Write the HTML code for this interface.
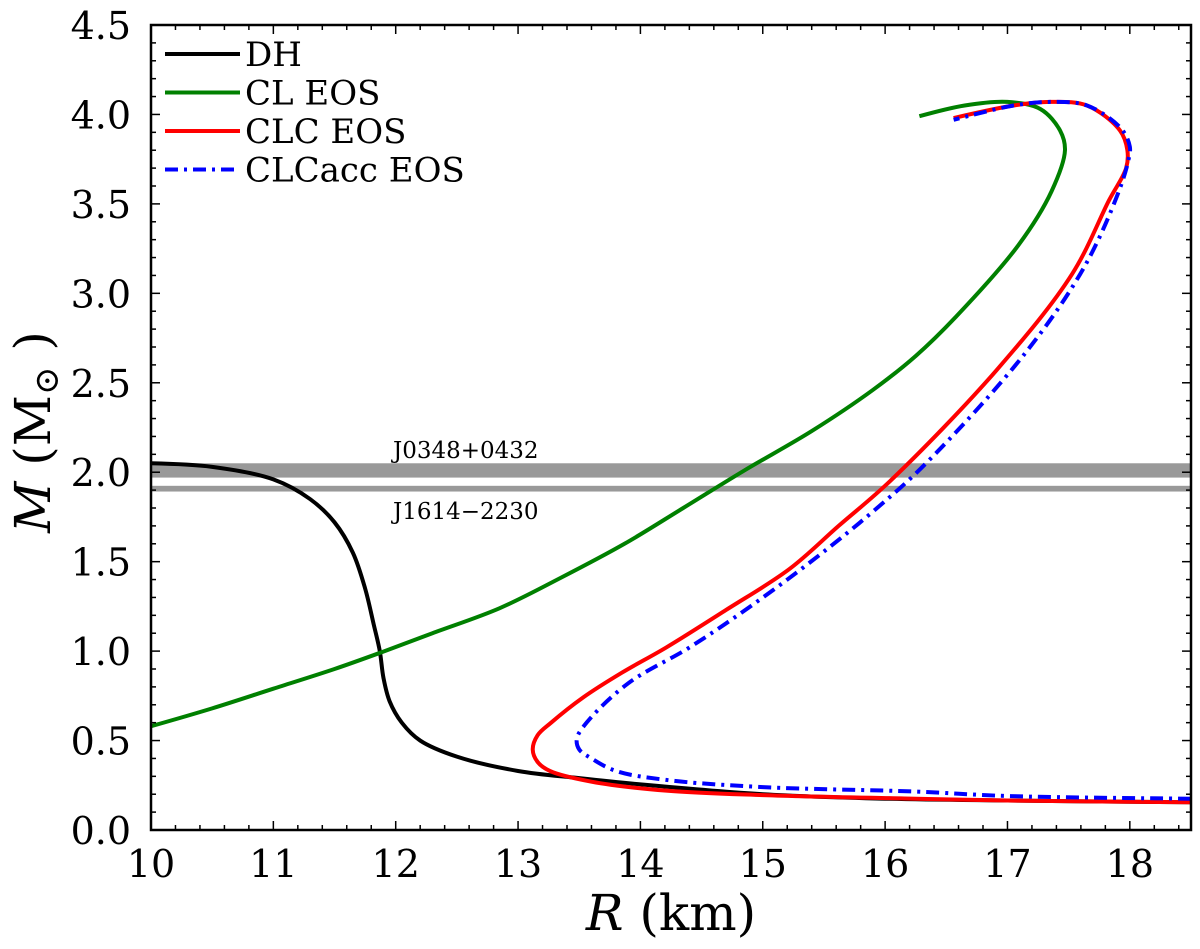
<!DOCTYPE html>
<html><head><meta charset="utf-8"><style>
body{margin:0;background:#fff}
svg text{font-family:"DejaVu Serif","Liberation Serif",serif}
</style></head><body>
<svg id="c" width="1200" height="944" viewBox="0 0 1200 944" xmlns="http://www.w3.org/2000/svg"></svg>
<script>
const xTicks=[10,11,12,13,14,15,16,17,18];
const yTicks=[0.0,0.5,1.0,1.5,2.0,2.5,3.0,3.5,4.0,4.5];
const dhR=[10.0,10.5,11.0,11.3,11.5,11.65,11.75,11.82,11.87,11.9,11.95,12.05,12.2,12.5,13,13.5,14,15,16,17,18.5];
const dhM=[2.05,2.03,1.96,1.85,1.72,1.55,1.35,1.15,1.0,0.85,0.72,0.6,0.5,0.41,0.33,0.29,0.255,0.2,0.175,0.165,0.155];
const clR=[10,10.5,11,11.5,11.87,12.3,12.85,13.35,13.87,14.35,14.85,15.4,15.9,16.25,16.58,17.09,17.36,17.47,17.43,17.27,17.0,16.65,16.28];
const clM=[0.58,0.68,0.79,0.9,0.99,1.1,1.24,1.41,1.6,1.8,2.01,2.23,2.46,2.65,2.87,3.27,3.57,3.8,3.91,4.03,4.07,4.05,3.99];
const clcR=[18.5,17,16.25,15,14.21,13.6,13.26,13.16,13.12,13.16,13.27,13.53,13.85,14.21,14.7,15.22,15.62,16.04,16.91,17.53,17.83,17.97,17.98,17.92,17.65,17.35,17.05,16.56];
const clcM=[0.155,0.165,0.175,0.195,0.22,0.27,0.33,0.38,0.45,0.53,0.6,0.74,0.88,1.02,1.23,1.46,1.7,1.95,2.57,3.11,3.52,3.7,3.8,3.91,4.05,4.07,4.05,3.98];
const accR=[18.5,17,16.25,15,14.21,13.8,13.6,13.5,13.48,13.56,13.9,14.4,14.92,15.45,15.9,16.32,17.15,17.63,17.91,17.99,18.0,17.93,17.65,17.35,17.05,16.56];
const accM=[0.175,0.19,0.215,0.24,0.28,0.33,0.4,0.45,0.51,0.6,0.82,1.02,1.26,1.53,1.78,2.04,2.67,3.15,3.57,3.75,3.82,3.92,4.05,4.07,4.05,3.97];
const bandLo=[1.97,1.892];
const bandHi=[2.05,1.924];
const bandNames=["J0348+0432","J1614\u22122230"];

const L=151,R=1191,T=25,B=830,x0=10,x1=18.5,y0=0,y1=4.5;
const sx=v=>L+(v-x0)/(x1-x0)*(R-L);
const sy=v=>B-(v-y0)/(y1-y0)*(B-T);
const svg=document.getElementById('c');
const NS='http://www.w3.org/2000/svg';
function mk(tag,at,parent){const e=document.createElementNS(NS,tag);for(const k in at)e.setAttribute(k,at[k]);(parent||svg).appendChild(e);return e;}
const clip=mk('clipPath',{id:'pc'});mk('rect',{x:L,y:T,width:R-L,height:B-T},clip);

for(let i=0;i<bandLo.length;i++){
  const r=mk('rect',{x:L,y:sy(bandHi[i]),width:R-L,height:sy(bandLo[i])-sy(bandHi[i]),fill:'#999'});
  
  
}
const t1=mk('text',{x:393,y:458,'font-size':23,fill:'#000'});t1.textContent=bandNames[0];


const t2=mk('text',{x:393,y:519,'font-size':23,fill:'#000'});t2.textContent=bandNames[1];



function path(rs,ms){
  const p=rs.map((r,i)=>[sx(r),sy(ms[i])]);
  const n=p.length;
  const dd=(a,b)=>Math.max(1e-3,Math.hypot(b[0]-a[0],b[1]-a[1]));
  let d='M'+p[0][0].toFixed(2)+','+p[0][1].toFixed(2);
  for(let i=0;i<n-1;i++){
    const P0=i>0?p[i-1]:p[i],P1=p[i],P2=p[i+1],P3=i+2<n?p[i+2]:p[i+1];
    const l2=dd(P1,P2);
    let b1,b2;
    if(i===0)b1=P1;else{
      const l1=dd(P0,P1),d1=Math.sqrt(l1),d2=Math.sqrt(l2);
      b1=[0,1].map(k=>(l1*P2[k]-l2*P0[k]+(2*l1+3*d1*d2+l2)*P1[k])/(3*d1*(d1+d2)));
    }
    if(i+2>=n)b2=P2;else{
      const l3=dd(P2,P3),d3=Math.sqrt(l3),d2=Math.sqrt(l2);
      b2=[0,1].map(k=>(l3*P1[k]-l2*P3[k]+(2*l3+3*d3*d2+l2)*P2[k])/(3*d3*(d3+d2)));
    }
    d+=' C'+b1.map(v=>v.toFixed(2))+' '+b2.map(v=>v.toFixed(2))+' '+P2.map(v=>v.toFixed(2));
  }
  return d;
}
const series=[[dhR,dhM,'#000',null,'dh-curve'],[clR,clM,'#008000',null,'cl-eos-curve'],[clcR,clcM,'#f00',null,'clc-eos-curve'],[accR,accM,'#00f','13,6,3,6','clcacc-eos-curve']];
series.forEach(s=>{
  const at={d:path(s[0],s[1]),fill:'none',stroke:s[2],'stroke-width':4,'clip-path':'url(#pc)'};
  if(s[3])at['stroke-dasharray']=s[3];
  const e=mk('path',at);
  
  
});

const fr=mk('rect',{x:L,y:T,width:R-L,height:B-T,fill:'none',stroke:'#000','stroke-width':2.5});


for(let v=10;v<=18.5001;v+=0.2){
  const maj=Math.abs(v-Math.round(v))<1e-6,len=maj?9:5,X=sx(v);
  mk('line',{x1:X,y1:B,x2:X,y2:B-len,stroke:'#000','stroke-width':1.5});
  mk('line',{x1:X,y1:T,x2:X,y2:T+len,stroke:'#000','stroke-width':1.5});
}
for(let v=0;v<=4.5001;v+=0.1){
  const maj=Math.abs(v*2-Math.round(v*2))<1e-6,len=maj?9:5,Y=sy(v);
  mk('line',{x1:L,y1:Y,x2:L+len,y2:Y,stroke:'#000','stroke-width':1.5});
  mk('line',{x1:R,y1:Y,x2:R-len,y2:Y,stroke:'#000','stroke-width':1.5});
}
xTicks.forEach(v=>{const t=mk('text',{x:sx(v),y:877,'font-size':38,'text-anchor':'middle'});t.textContent=v;

});
yTicks.forEach(v=>{const t=mk('text',{x:131,y:sy(v)+14,'font-size':38,'text-anchor':'end'});t.textContent=v.toFixed(1);

});
const xl=mk('text',{x:671,y:930,'font-size':50,'text-anchor':'middle'});
xl.innerHTML='<tspan font-style="italic">R</tspan> (km)';


const yl=mk('text',{x:0,y:0,'font-size':50,'text-anchor':'middle',transform:'translate(50,432) rotate(-90)'});
yl.innerHTML='<tspan font-style="italic">M</tspan> (M<tspan font-size="34" dy="8">\u2299</tspan><tspan dy="-8"> )</tspan>';



const leg=[['DH','#000',null],['CL EOS','#008000',null],['CLC EOS','#f00',null],['CLCacc EOS','#00f','13,6,3,6']];
leg.forEach((l,i)=>{
  const y=54+i*38.5;
  const g=mk('g',{});
  
  
  const at={x1:165,y1:y,x2:240,y2:y,stroke:l[1],'stroke-width':4};if(l[2])at['stroke-dasharray']=l[2];
  mk('line',at,g);
  const t=mk('text',{x:245,y:y+12,'font-size':34},g);t.textContent=l[0];
});
</script>
</body></html>
